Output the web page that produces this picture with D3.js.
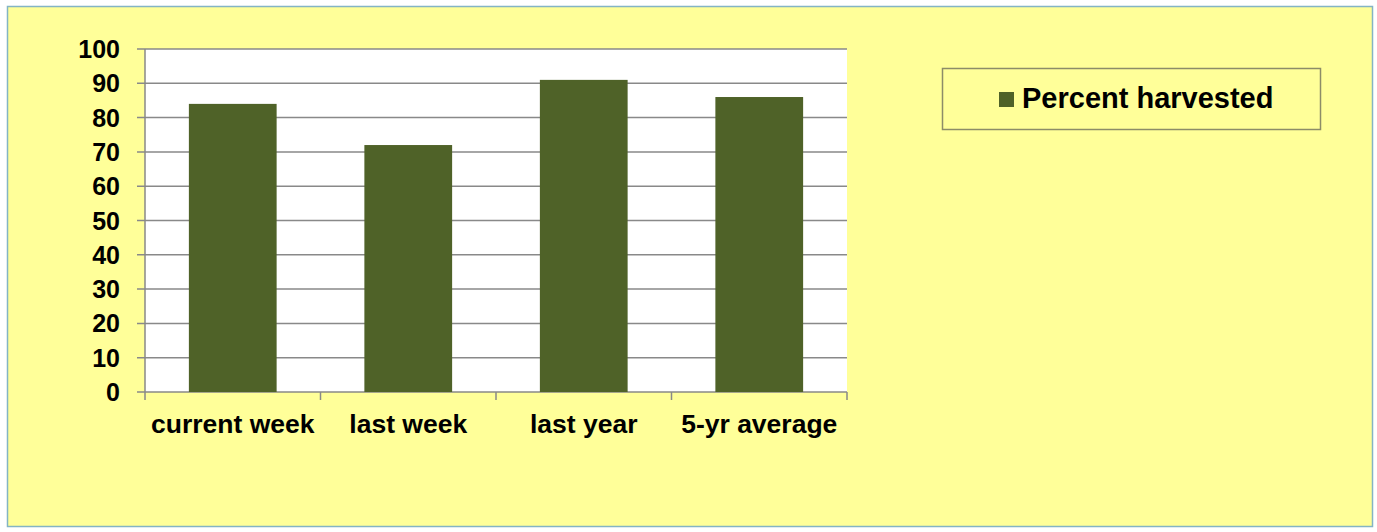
<!DOCTYPE html>
<html>
<head>
<meta charset="utf-8">
<script src="https://cdn.jsdelivr.net/npm/d3@7"></script>
<style>
  body { margin: 0; background: #fff; }
  text { font-family: "Liberation Sans", Arial, sans-serif; font-weight: bold; fill: #000; }
</style>
</head>
<body>
<svg id="chart"></svg>
<script>
// chart data
const categories = ["current week", "last week", "last year", "5-yr average"];
const values = [84, 72, 91, 86];
const seriesName = "Percent harvested";
const yTicks = [0, 10, 20, 30, 40, 50, 60, 70, 80, 90, 100];

const width = 1377;
const height = 532;
const svg = d3.select("#chart").attr("width", width).attr("height", height);

// outer frame
svg.append("rect")
  .attr("x", 7.5).attr("y", 6.5)
  .attr("width", 1365).attr("height", 520)
  .attr("fill", "#ffff99")
  .attr("stroke", "#84b4c4")
  .attr("stroke-width", 1.5);

const plot = { left: 145, right: 847, top: 49, bottom: 392 };

const x = d3.scaleBand()
  .domain(categories)
  .range([plot.left, plot.right])
  .paddingInner(0.5)
  .paddingOuter(0.25);

const y = d3.scaleLinear().domain([0, 100]).range([plot.bottom, plot.top]);

// plot background
svg.append("rect")
  .attr("x", plot.left).attr("y", plot.top)
  .attr("width", plot.right - plot.left).attr("height", plot.bottom - plot.top)
  .attr("fill", "#fff");

// gridlines + y ticks
svg.append("g")
  .selectAll("line")
  .data(yTicks)
  .enter()
  .append("line")
  .attr("x1", plot.left - 8)
  .attr("x2", plot.right)
  .attr("y1", (d) => y(d))
  .attr("y2", (d) => y(d))
  .attr("stroke", "#898989")
  .attr("stroke-width", 1.5);

svg.append("g")
  .selectAll("text")
  .data(yTicks)
  .enter()
  .append("text")
  .attr("x", 120)
  .attr("y", (d) => y(d))
  .attr("dy", "0.36em")
  .attr("text-anchor", "end")
  .style("font-size", "25px")
  .text((d) => d);

// bars
svg.append("g")
  .selectAll("rect")
  .data(values)
  .enter()
  .append("rect")
  .attr("x", (d, i) => x(categories[i]))
  .attr("y", (d) => y(d))
  .attr("width", x.bandwidth())
  .attr("height", (d) => y(0) - y(d))
  .attr("fill", "#4f6228");

// axes lines
svg.append("line")
  .attr("x1", plot.left).attr("x2", plot.left)
  .attr("y1", plot.top).attr("y2", plot.bottom)
  .attr("stroke", "#898989").attr("stroke-width", 1.5);

// category tick marks at band edges
const step = (plot.right - plot.left) / categories.length;
const edges = d3.range(categories.length + 1).map((i) => plot.left + i * step);
svg.append("g")
  .selectAll("line")
  .data(edges)
  .enter()
  .append("line")
  .attr("x1", (d) => d).attr("x2", (d) => d)
  .attr("y1", plot.bottom).attr("y2", plot.bottom + 8)
  .attr("stroke", "#898989").attr("stroke-width", 1.5);

svg.append("g")
  .selectAll("text")
  .data(categories)
  .enter()
  .append("text")
  .attr("x", (d) => x(d) + x.bandwidth() / 2)
  .attr("y", 433)
  .attr("text-anchor", "middle")
  .style("font-size", "26.5px")
  .text((d) => d);

// legend
const legend = svg.append("g");
legend.append("rect")
  .attr("x", 942.5).attr("y", 68.5)
  .attr("width", 378).attr("height", 61)
  .attr("fill", "none")
  .attr("stroke", "#8c8c68")
  .attr("stroke-width", 1.5);
legend.append("rect")
  .attr("x", 999).attr("y", 92)
  .attr("width", 15).attr("height", 15)
  .attr("fill", "#4f6228");
legend.append("text")
  .attr("x", 1022)
  .attr("y", 108)
  .style("font-size", "29px")
  .text(seriesName);
</script>
</body>
</html>
